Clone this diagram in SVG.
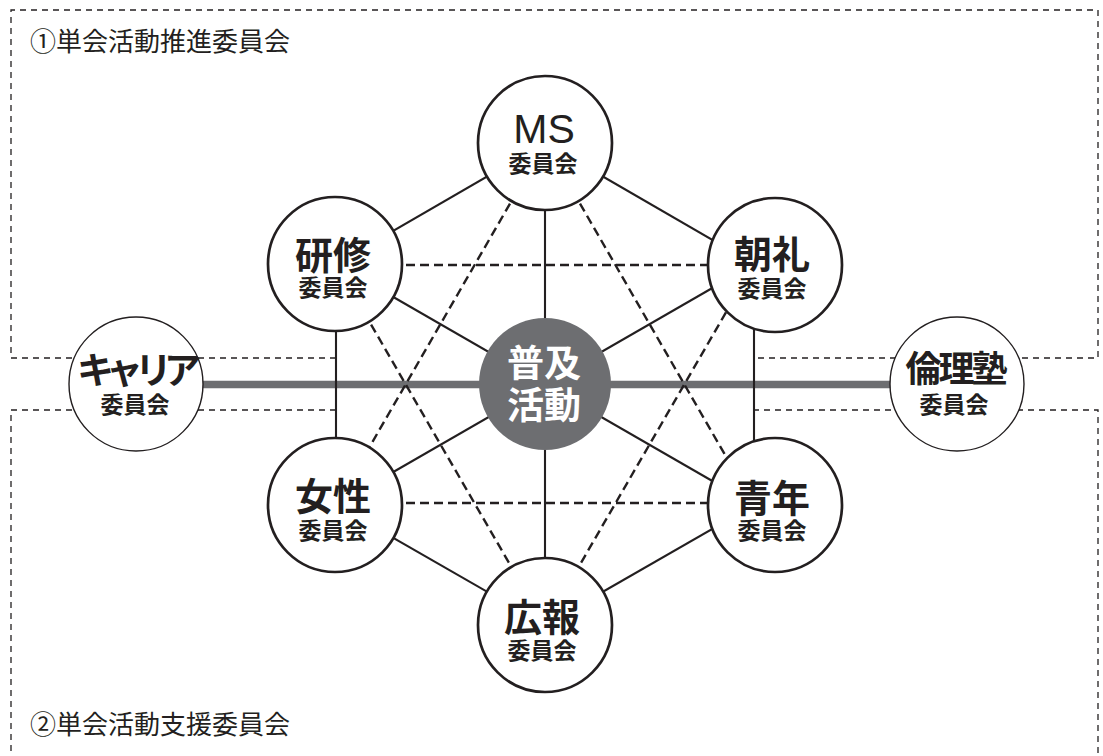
<svg xmlns="http://www.w3.org/2000/svg" width="1103" height="756" viewBox="0 0 1103 756">
<style>
.box{fill:none;stroke:#231f20;stroke-width:1.3;stroke-dasharray:6 5}
.sol{stroke:#231f20;stroke-width:2.1;fill:none}
.dsh{stroke:#231f20;stroke-width:2.4;stroke-dasharray:9 5;fill:none}
.bar{stroke:#6d6e71;stroke-width:7.5}
.node{fill:#fff;stroke:#231f20;stroke-width:2.7}
.thin{fill:#fff;stroke:#231f20;stroke-width:1.4}
.core{fill:#6d6e71}
.jp{font-family:"Noto Sans CJK JP","Noto Sans CJK SC",sans-serif;text-anchor:middle;fill:#231f20}
.main{font-size:38px;font-weight:700}
.sub{font-size:23px;font-weight:700}
.lbl{font-family:"Noto Sans CJK JP","Noto Sans CJK SC",sans-serif;font-size:26px;fill:#231f20}
.ms{font-family:"Liberation Sans",Arial,sans-serif;font-size:41px;text-anchor:middle;fill:#231f20}
.wt{fill:#fff;font-size:37px;font-weight:700}
</style>
<g id="regions">
<path class="box" d="M336,358 H11 V10 H1098 V358 H753"/>
<path class="box" d="M336,410 H11 V760"/>
<path class="box" d="M753,410 H1098 V760"/>
<text class="lbl" x="30" y="51">①単会活動推進委員会</text>
<text class="lbl" x="30" y="734">②単会活動支援委員会</text>
</g>
<g id="connectors">
<line class="bar" x1="136" y1="384.5" x2="957" y2="384.5"/>
<line class="sol" x1="545" y1="143" x2="336" y2="264"/>
<line class="sol" x1="545" y1="143" x2="754" y2="264"/>
<line class="sol" x1="336" y1="264" x2="336" y2="505"/>
<line class="sol" x1="754" y1="264" x2="754" y2="505"/>
<line class="sol" x1="336" y1="505" x2="545" y2="625"/>
<line class="sol" x1="754" y1="505" x2="545" y2="625"/>
<line class="sol" x1="545" y1="143" x2="545" y2="625"/>
<line class="sol" x1="336" y1="264" x2="754" y2="505"/>
<line class="sol" x1="754" y1="264" x2="336" y2="505"/>
<line class="dsh" x1="336" y1="265" x2="754" y2="265"/>
<line class="dsh" x1="336" y1="503" x2="754" y2="503"/>
<line class="dsh" x1="545" y1="143" x2="336" y2="505"/>
<line class="dsh" x1="545" y1="143" x2="754" y2="505"/>
<line class="dsh" x1="336" y1="264" x2="545" y2="625"/>
<line class="dsh" x1="754" y1="264" x2="545" y2="625"/>
</g>
<g id="node-ms">
<circle class="node" cx="545" cy="143" r="67"/>
<text class="ms" x="544" y="143">MS</text>
<text class="jp sub" x="543" y="172">委員会</text>
</g>
<g id="node-kenshu">
<circle class="node" cx="335" cy="264" r="67"/>
<text class="jp main" x="333" y="269">研修</text>
<text class="jp sub" x="333" y="296">委員会</text>
</g>
<g id="node-chorei">
<circle class="node" cx="775" cy="265" r="67"/>
<text class="jp main" x="772" y="268">朝礼</text>
<text class="jp sub" x="772" y="297">委員会</text>
</g>
<g id="node-josei">
<circle class="node" cx="335" cy="505" r="67"/>
<text class="jp main" x="333" y="510">女性</text>
<text class="jp sub" x="333" y="538.5">委員会</text>
</g>
<g id="node-seinen">
<circle class="node" cx="775" cy="505" r="67"/>
<text class="jp main" x="772" y="511.5">青年</text>
<text class="jp sub" x="772" y="538.5">委員会</text>
</g>
<g id="node-koho">
<circle class="node" cx="545" cy="625" r="67"/>
<text class="jp main" x="542" y="631">広報</text>
<text class="jp sub" x="542" y="658.5">委員会</text>
</g>
<g id="node-center">
<circle class="core" cx="545" cy="384" r="66"/>
<text class="jp wt" x="544" y="377">普及</text>
<text class="jp wt" x="544" y="419">活動</text>
</g>
<g id="node-career">
<circle class="thin" cx="136" cy="384" r="67"/>
<text class="jp main" x="135" y="384" style="font-size:37px;letter-spacing:-8px">キャリア</text>
<text class="jp sub" x="135" y="413">委員会</text>
</g>
<g id="node-rinri">
<circle class="thin" cx="957" cy="384" r="67"/>
<text class="jp main" x="955" y="382" style="font-size:36px;letter-spacing:-3px">倫理塾</text>
<text class="jp sub" x="954" y="413">委員会</text>
</g>
</svg>
